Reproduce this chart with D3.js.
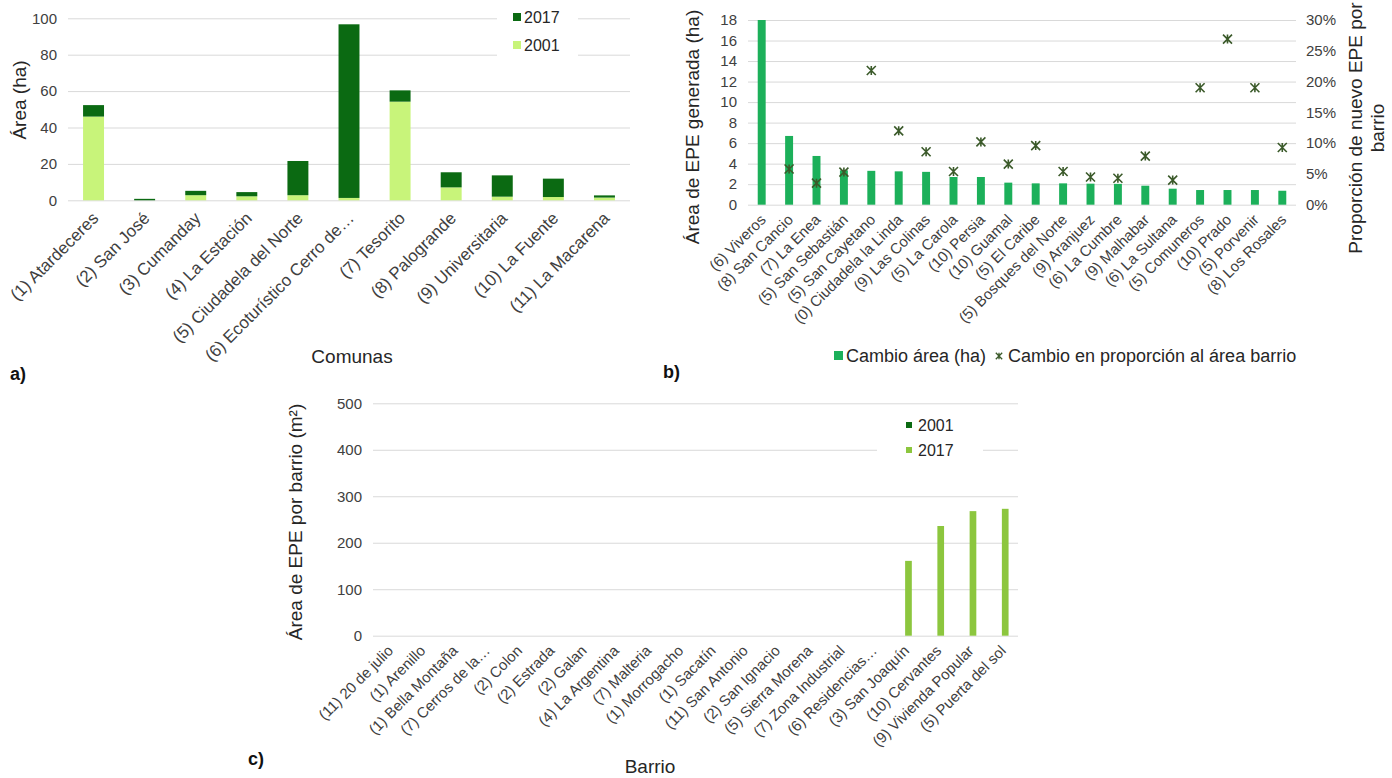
<!DOCTYPE html>
<html>
<head>
<meta charset="utf-8">
<script src="https://cdn.jsdelivr.net/npm/d3@7"></script>
<style>
  body { margin: 0; background: #fff; }
  svg text { font-family: "Liberation Sans", Arial, sans-serif; }
</style>
</head>
<body>
<svg id="SVG_CONTAINER" width="1392" height="778"></svg>
<script>
// ---------- data, panel a (área por comuna, ha) ----------
const comunas = ["(1) Atardeceres", "(2) San José", "(3) Cumanday", "(4) La Estación",
    "(5) Ciudadela del Norte", "(6) Ecoturístico Cerro de…", "(7) Tesorito", "(8) Palogrande",
    "(9) Universitaria", "(10) La Fuente", "(11) La Macarena"];
const area2001 = [46, 0, 2.8, 2.2, 2.8, 1.3, 54.2, 7.1, 2.0, 1.8, 1.5];
const area2017 = [6.3, 0.8, 2.4, 2.3, 18.8, 95.4, 6.2, 8.3, 11.7, 10.1, 1.2];
const areaTicks = [0, 20, 40, 60, 80, 100];

// ---------- data, panel b (cambio por barrio) ----------
const barriosB = ["(6) Viveros", "(8) San Cancio", "(7) La Enea", "(5) San Sebastián",
    "(5) San Cayetano", "(0) Ciudadela la Linda", "(9) Las Colinas", "(5) La Carola",
    "(10) Persia", "(10) Guamal", "(5) El Caribe", "(5) Bosques del Norte", "(9) Aranjuez",
    "(6) La Cumbre", "(9) Malhabar", "(6) La Sultana", "(5) Comuneros", "(10) Prado",
    "(5) Porvenir", "(8) Los Rosales"];
const cambioArea = [18, 6.7, 4.75, 3.35, 3.3, 3.25, 3.2, 2.7, 2.7, 2.15, 2.08, 2.08, 2.05,
    2.03, 1.85, 1.56, 1.43, 1.43, 1.43, 1.36];
const cambioProp = [null, 0.058, 0.035, 0.053, 0.218, 0.12, 0.086, 0.054, 0.102, 0.066,
    0.096, 0.054, 0.045, 0.043, 0.079, 0.04, 0.19, 0.269, 0.19, 0.093];
const haTicks = [0, 2, 4, 6, 8, 10, 12, 14, 16, 18];
const propTicks = [0, 0.05, 0.10, 0.15, 0.20, 0.25, 0.30];

// ---------- data, panel c (EPE por barrio, m2) ----------
const barriosC = ["(11) 20 de julio", "(1) Arenillo", "(1) Bella Montaña", "(7) Cerros de la…",
    "(2) Colon", "(2) Estrada", "(2) Galan", "(4) La Argentina", "(7) Malteria",
    "(1) Morrogacho", "(1) Sacatín", "(11) San Antonio", "(2) San Ignacio",
    "(5) Sierra Morena", "(7) Zona Industrial", "(6) Residencias…", "(3) San Joaquín",
    "(10) Cervantes", "(9) Vivienda Popular", "(5) Puerta del sol"];
const epe2001 = [0, 0, 0, 0, 0, 0, 0, 0, 0, 0, 0, 0, 0, 0, 0, 0, 0, 0, 0, 0];
const epe2017 = [0, 0, 0, 0, 0, 0, 0, 0, 0, 0, 0, 0, 0, 0, 0, 0, 161, 236, 268, 273];
const epeTicks = [0, 100, 200, 300, 400, 500];

const GRID = "#d9d9d9";
const TICK = "#404040";
const TITLE = "#262626";

let svg = d3.select("#SVG_CONTAINER");

//horizontal gridlines + left labels
function gridAxis(g, y, ticks, x0, x1) {
    let ax = g.append("g")
        .attr("transform", "translate(" + x0 + ",0)")
        .call(d3.axisLeft(y).tickValues(ticks).tickSize(-(x1 - x0)).tickPadding(11));
    ax.select(".domain").remove();
    ax.selectAll("line").style("stroke", GRID).style("stroke-width", 1);
    ax.selectAll("text").style("font-size", "15px").style("fill", TICK)
        .style("font-family", "Liberation Sans, Arial, sans-serif");
    return ax;
}

//rotated category labels
function xLabels(g, x, y0, size, dx, dy) {
    let ax = g.append("g")
        .attr("transform", "translate(0," + y0 + ")")
        .call(d3.axisBottom(x).tickSize(0).tickPadding(0));
    ax.select(".domain").remove();
    ax.selectAll("text")
        .attr("x", 0).attr("y", 0).attr("dy", 0)
        .attr("text-anchor", "end")
        .attr("transform", "translate(" + dx + "," + dy + ") rotate(-45)")
        .style("font-size", size + "px")
        .style("fill", TICK)
        .style("font-family", "Liberation Sans, Arial, sans-serif");
}

function title(g, txt, x, y, rot, size) {
    g.append("text")
        .attr("transform", "translate(" + x + "," + y + ")" + (rot ? " rotate(-90)" : ""))
        .attr("text-anchor", "middle")
        .style("font-size", (size || 19) + "px")
        .style("fill", TITLE)
        .text(txt);
}

//star marker (x with a vertical bar)
function star(s) {
    return "M" + (-s) + "," + (-s) + "L" + s + "," + s + "M" + (-s) + "," + s + "L" + s + "," + (-s)
        + "M0," + (-s) + "L0," + s;
}

//** PANEL A *****************************************
(function () {
    let g = svg.append("g");
    let x = d3.scaleBand().domain(comunas).range([68, 630]).paddingInner(0.59).paddingOuter(0.295);
    let y = d3.scaleLinear().domain([0, 100]).range([200.3, 18.3]);

    gridAxis(g, y, areaTicks, 68, 630);

    let rows = comunas.map((c, i) => ({ name: c, a2001: area2001[i], a2017: area2017[i] }));
    let stack = d3.stack().keys(["a2001", "a2017"])(rows);
    let colour = { a2001: "#c8f47a", a2017: "#0b6a12" };

    stack.forEach(function (layer) {
        g.append("g").selectAll("rect")
            .data(layer)
            .enter()
            .append("rect")
            .attr("x", d => x(d.data.name))
            .attr("y", d => y(d[1]))
            .attr("width", x.bandwidth())
            .attr("height", d => y(d[0]) - y(d[1]))
            .style("fill", colour[layer.key]);
    });

    xLabels(g, x, 200.3, 17, 6, 19);

    //legend
    g.append("rect").attr("x", 497).attr("y", 6).attr("width", 81).attr("height", 54).style("fill", "#fff");
    [["2017", colour.a2017, 17], ["2001", colour.a2001, 45]].forEach(function (l) {
        g.append("rect").attr("x", 513).attr("y", l[2] - 4).attr("width", 8).attr("height", 8).style("fill", l[1]);
        g.append("text").attr("x", 524).attr("y", l[2] + 6).style("font-size", "16px").style("fill", TITLE).text(l[0]);
    });

    title(g, "Área (ha)", 26, 100, true);
    title(g, "Comunas", 352, 363, false);
    g.append("text").attr("x", 10).attr("y", 380).style("font-size", "18px")
        .style("font-weight", "bold").style("fill", "#111").text("a)");
})();

//** PANEL B *****************************************
(function () {
    let g = svg.append("g");
    let x = d3.scaleBand().domain(barriosB).range([748, 1296]).paddingInner(0.71).paddingOuter(0.355);
    let y = d3.scaleLinear().domain([0, 18]).range([204.7, 20]);
    let yR = d3.scaleLinear().domain([0, 0.30]).range([204.7, 20]);

    gridAxis(g, y, haTicks, 748, 1296);

    let right = g.append("g")
        .attr("transform", "translate(1296,0)")
        .call(d3.axisRight(yR).tickValues(propTicks).tickSize(0).tickPadding(10).tickFormat(d3.format(".0%")));
    right.select(".domain").remove();
    right.selectAll("text").style("font-size", "15px").style("fill", TICK)
        .style("font-family", "Liberation Sans, Arial, sans-serif");

    g.append("g").selectAll("rect")
        .data(barriosB)
        .enter()
        .append("rect")
        .attr("x", d => x(d))
        .attr("y", (d, i) => y(cambioArea[i]))
        .attr("width", x.bandwidth())
        .attr("height", (d, i) => y(0) - y(cambioArea[i]))
        .style("fill", "#1cb05a");

    let pts = barriosB.map((b, i) => ({ name: b, v: cambioProp[i] })).filter(d => d.v !== null);
    g.append("g").selectAll("path")
        .data(pts)
        .enter()
        .append("path")
        .attr("transform", d => "translate(" + (x(d.name) + x.bandwidth() / 2) + "," + yR(d.v) + ")")
        .attr("d", star(4.5))
        .style("fill", "none")
        .style("stroke", "#3b5a2a")
        .style("stroke-width", 1.6);

    xLabels(g, x, 204.7, 15, 5, 16);

    title(g, "Área de EPE generada (ha)", 699, 127, true);
    title(g, "Proporción de nuevo EPE por", 1362, 128, true);
    title(g, "barrio", 1384, 128, true);

    //legend
    let lx = 834;
    g.append("rect").attr("x", lx).attr("y", 351).attr("width", 9).attr("height", 9).style("fill", "#1cb05a");
    g.append("text").attr("x", lx + 12).attr("y", 362).style("font-size", "18px").style("fill", TITLE).text("Cambio área (ha)");
    g.append("path").attr("transform", "translate(" + (lx + 165) + ",356)").attr("d", star(3.2))
        .style("fill", "none").style("stroke", "#3b5a2a").style("stroke-width", 1.3);
    g.append("text").attr("x", lx + 174).attr("y", 362).style("font-size", "18px").style("fill", TITLE)
        .text("Cambio en proporción al área barrio");

    g.append("text").attr("x", 663).attr("y", 378).style("font-size", "18px")
        .style("font-weight", "bold").style("fill", "#111").text("b)");
})();

//** PANEL C *****************************************
(function () {
    let g = svg.append("g");
    let x = d3.scaleBand().domain(barriosC).range([373, 1018]).paddingInner(0.585).paddingOuter(0.2925);
    let sub = d3.scaleBand().domain(["2001", "2017"]).range([0, x.bandwidth()]);
    let y = d3.scaleLinear().domain([0, 500]).range([635.7, 403.3]);
    let colour = { "2001": "#0b6a12", "2017": "#8cc63e" };

    gridAxis(g, y, epeTicks, 373, 1018);

    let rows = [];
    barriosC.forEach(function (b, i) {
        rows.push({ name: b, key: "2001", v: epe2001[i] });
        rows.push({ name: b, key: "2017", v: epe2017[i] });
    });

    g.append("g").selectAll("rect")
        .data(rows)
        .enter()
        .append("rect")
        .attr("x", d => x(d.name) + sub(d.key))
        .attr("y", d => y(d.v))
        .attr("width", sub.bandwidth())
        .attr("height", d => y(0) - y(d.v))
        .style("fill", d => colour[d.key]);

    xLabels(g, x, 635.7, 15, 5, 16);

    //legend
    g.append("rect").attr("x", 877).attr("y", 410).attr("width", 106).attr("height", 56).style("fill", "#fff");
    [["2001", colour["2001"], 425], ["2017", colour["2017"], 450]].forEach(function (l) {
        g.append("rect").attr("x", 906).attr("y", l[2] - 3).attr("width", 6).attr("height", 6).style("fill", l[1]);
        g.append("text").attr("x", 918).attr("y", l[2] + 6).style("font-size", "16px").style("fill", TITLE).text(l[0]);
    });

    title(g, "Área de EPE por barrio (m²)", 302, 522, true);
    title(g, "Barrio", 650, 773, false);
    g.append("text").attr("x", 248).attr("y", 765).style("font-size", "18px")
        .style("font-weight", "bold").style("fill", "#111").text("c)");
})();
</script>
</body>
</html>
